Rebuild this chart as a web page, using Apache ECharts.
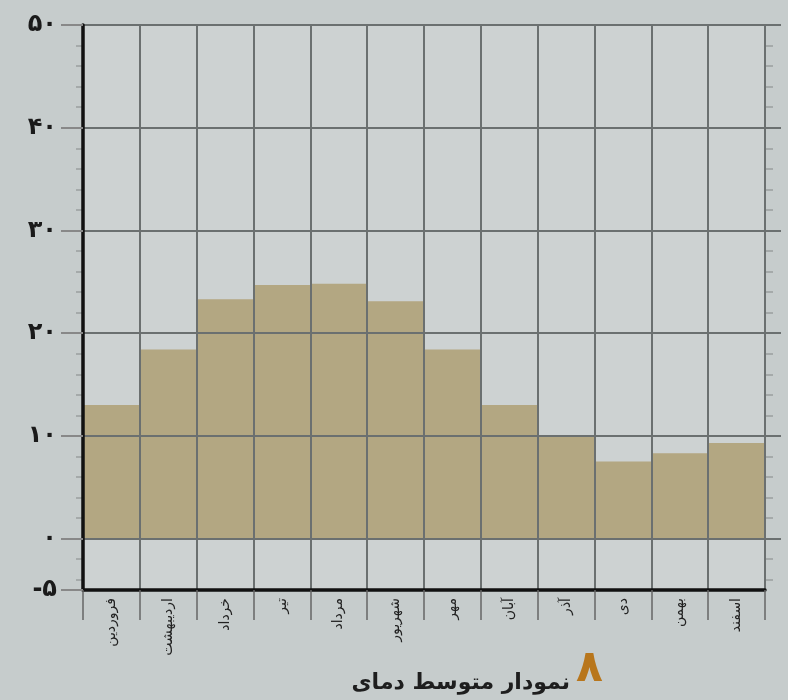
<!DOCTYPE html>
<html><head><meta charset="utf-8">
<script src="https://cdn.jsdelivr.net/npm/echarts@6/dist/echarts.min.js"></script>
<style>html,body{margin:0;padding:0;background:#c6cccc;}#c{width:788px;height:700px;}</style>
</head><body><div id="c"></div>
<script>
const months = ['فروردین','اردیبهشت','خرداد','تیر','مرداد','شهریور','مهر','آبان','آذر','دی','بهمن','اسفند'];
const avgTemp = [13, 18.4, 23.3, 24.7, 24.8, 23.1, 18.4, 13, 10, 7.5, 8.3, 9.3];
const yTickValues = [-5, 0, 10, 20, 30, 40, 50];
const yTickLabels = ['-۵', '۰', '۱۰', '۲۰', '۳۰', '۴۰', '۵۰'];
const yMinorValues = [-4,-2,2,4,6,8,12,14,16,18,22,24,26,28,32,34,36,38,42,44,46,48];
const figNumber = '۸';
const titleText = 'نمودار متوسط دمای';

const chart = echarts.init(document.getElementById('c'));
const gridColor = '#6b7070';
const xSplitColors = ['rgba(0,0,0,0)'].concat(months.map(() => gridColor));
const ySplitColors = ['rgba(0,0,0,0)'].concat(yTickValues.slice(1).map(() => gridColor));
chart.setOption({
  backgroundColor: '#c6cccc',
  animation: false,
  grid: { left: 83, right: 23, top: 25, bottom: 110, show: true, backgroundColor: '#cdd2d2', borderWidth: 0 },
  xAxis: {
    type: 'category', data: months, boundaryGap: true, z: 6,
    axisLine: { onZero: false, lineStyle: { color: '#111', width: 3.5 } },
    axisTick: { show: true, length: 30, lineStyle: { color: '#666', width: 1.5 } },
    splitLine: { show: true, lineStyle: { color: xSplitColors, width: 2 } },
    axisLabel: { rotate: 90, fontSize: 14, color: '#222', margin: 8, fontFamily: 'DejaVu Sans' }
  },
  yAxis: [
    {
      type: 'value', min: -5, max: 50, position: 'left', z: 6,
      axisLine: { show: true, lineStyle: { color: '#111', width: 3.5 } },
      axisTick: { show: true, customValues: yTickValues, length: 22, lineStyle: { color: '#888', width: 2 } },
      axisLabel: { customValues: yTickValues, fontSize: 24, fontWeight: 'bold', color: '#1a1a1a', margin: 26, fontFamily: 'DejaVu Sans',
        formatter: v => yTickLabels[yTickValues.indexOf(v)] },
      splitLine: { show: true, lineStyle: { color: ySplitColors, width: 2 } }
    },
    {
      type: 'value', min: -5, max: 50, position: 'left', z: 5,
      axisLine: { show: false },
      axisTick: { show: true, customValues: yMinorValues, length: 7, lineStyle: { color: '#9a9e9e', width: 1.5 } },
      axisLabel: { show: false },
      splitLine: { show: false }
    },
    {
      type: 'value', min: -5, max: 50, position: 'right', z: 5,
      axisLine: { show: true, lineStyle: { color: gridColor, width: 2 } },
      axisTick: { show: true, customValues: yMinorValues, length: 8, lineStyle: { color: '#9a9e9e', width: 1.5 } },
      axisLabel: { show: false },
      splitLine: { show: false }
    },
    {
      type: 'value', min: -5, max: 50, position: 'right', z: 5,
      axisLine: { show: false },
      axisTick: { show: true, customValues: yTickValues.slice(1), length: 16, lineStyle: { color: gridColor, width: 2 } },
      axisLabel: { show: false },
      splitLine: { show: false }
    }
  ],
  series: [{
    type: 'bar', data: avgTemp, barCategoryGap: '0%', yAxisIndex: 0, z: 2,
    itemStyle: { color: '#b1a37b', opacity: 0.92 }
  }],
  graphic: [
    { type: 'text', left: 576, top: 648, style: { text: figNumber, fontSize: 44, fontWeight: 'bold', fill: '#b8761c', fontFamily: 'DejaVu Sans' } },
    { type: 'text', right: 218, top: 672, style: { text: titleText, fontSize: 22, fontWeight: 'bold', fill: '#1e1e1e', fontFamily: 'DejaVu Sans' } }
  ]
});
</script></body></html>
